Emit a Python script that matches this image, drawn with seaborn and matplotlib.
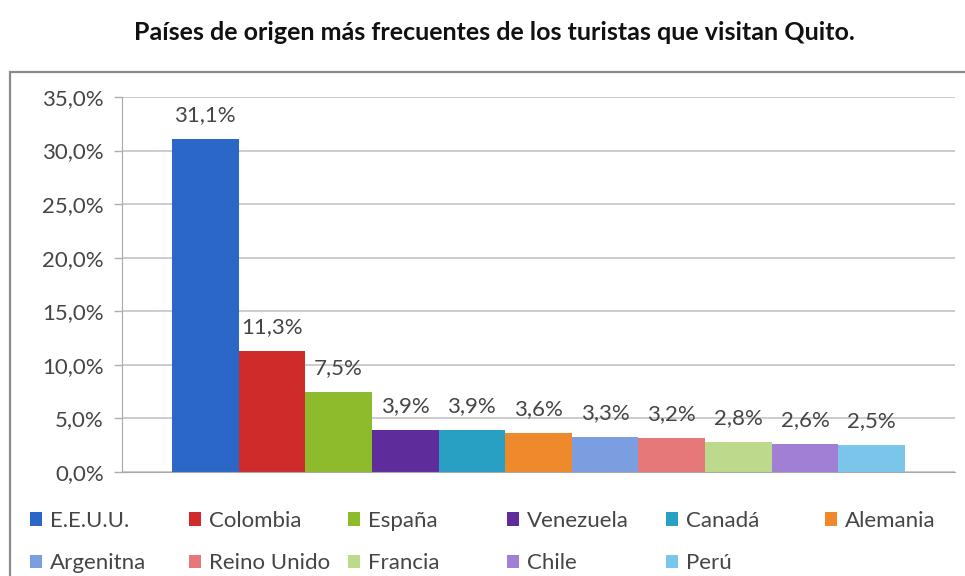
import matplotlib
matplotlib.use("Agg")
import matplotlib.pyplot as plt
from matplotlib.patches import Patch, Rectangle
import seaborn as sns
import pandas as pd

# data
countries = ['E.E.U.U.', 'Colombia', 'España', 'Venezuela', 'Canadá', 'Alemania',
             'Argenitna', 'Reino Unido', 'Francia', 'Chile', 'Perú']
shares = [31.1, 11.3, 7.5, 3.9, 3.9, 3.6, 3.3, 3.2, 2.8, 2.6, 2.5]
colors = ['#2a67c6', '#cf2b2b', '#8dbb2b', '#5f2d9b', '#27a0c4', '#ef8a2c',
          '#7b9ee0', '#e7787a', '#bdd98b', '#a17fd5', '#79c6ea']
y_ticks = [0, 5, 10, 15, 20, 25, 30, 35]
title = 'Países de origen más frecuentes de los turistas que visitan Quito.'

df = pd.DataFrame({'grupo': ['Quito'] * len(countries), 'pais': countries, 'pct': shares})

sns.set_style('white')
plt.rcParams['font.family'] = ['Lato', 'DejaVu Sans']
text_col = '#454545'

fig = plt.figure(figsize=(9.65, 5.76), dpi=100)
ax = fig.add_axes([0.1264, 0.1806, 0.8632, 0.651])

sns.barplot(data=df, x='grupo', y='pct', hue='pais', hue_order=countries,
            palette=colors, width=0.88, dodge=True, gap=0, saturation=1,
            linewidth=0, edgecolor='none', legend=False, ax=ax)

# value labels on top of each bar
for cont in ax.containers:
    ax.bar_label(cont, labels=[f"{v:.1f}%".replace('.', ',') for v in cont.datavalues],
                 padding=10, fontsize=16, color=text_col)

ax.set_ylim(0, 35)
ax.set_xlim(-0.5, 0.5)
ax.set_yticks(y_ticks)
ax.set_yticklabels([f"{t:.1f}%".replace('.', ',') for t in y_ticks], fontsize=16, color=text_col)
ax.set_xticks([])
ax.set_xlabel('')
ax.set_ylabel('')
ax.yaxis.grid(True, color='#c4c4c4', linewidth=1.2)
ax.set_axisbelow(True)
ax.tick_params(axis='y', length=6, width=1, color='#b0b0b0', pad=7, left=True)
for side in ['top', 'right']:
    ax.spines[side].set_visible(False)
ax.spines['left'].set_color('#a8a8a8')
ax.spines['bottom'].set_color('#a8a8a8')

# outer chart frame (cut off at right and bottom like the reference)
fig.patches.append(Rectangle((10 / 965, -0.2), 1.2, 1.2 - 72 / 576,
                             transform=fig.transFigure, fill=False,
                             edgecolor='#8a8a8a', linewidth=1.6))

fig.text(0.512, 1 - 33 / 576, title, ha='center', va='center',
         fontsize=18, fontweight='bold', color='#111111')

# legend laid out in two rows with equal column widths
ncol = 6
for c in range(ncol):
    idx = [i for i in range(len(countries)) if i % ncol == c]
    handles = [Patch(facecolor=colors[i], edgecolor='none') for i in idx]
    labels = [countries[i] for i in idx]
    fig.legend(handles=handles, labels=labels, loc='upper left',
               bbox_to_anchor=((30 + c * 159) / 965, 1 - 511 / 576),
               frameon=False, fontsize=16, handlelength=0.55, handleheight=0.55,
               handletextpad=0.35, labelspacing=1.0, borderpad=0,
               borderaxespad=0, labelcolor=text_col)

fig.savefig('out.png', dpi=100)
